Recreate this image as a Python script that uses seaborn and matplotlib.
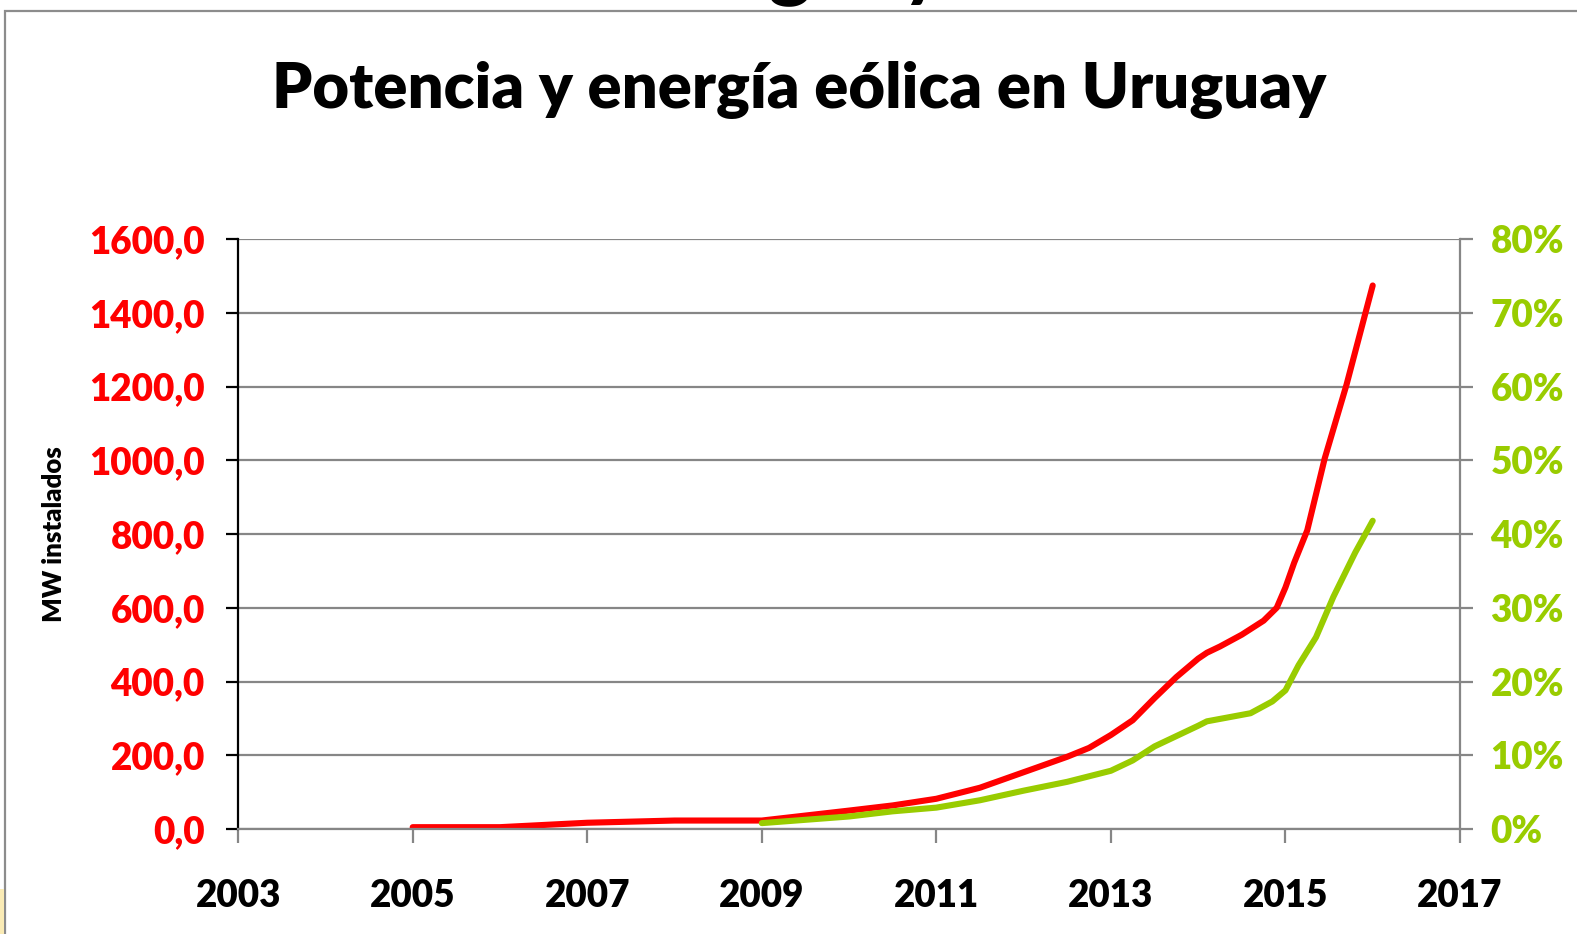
import matplotlib
matplotlib.use("Agg")
import matplotlib.pyplot as plt
import seaborn as sns
import pandas as pd
from matplotlib.patches import Rectangle
from matplotlib.ticker import FuncFormatter, MultipleLocator

# potencia eólica instalada (MW)
anio_mw = [2005, 2006, 2007, 2008, 2009, 2010, 2010.5, 2011, 2011.5, 2012,
           2012.5, 2012.75, 2013.0, 2013.25, 2013.5, 2013.75, 2014.0, 2014.1,
           2014.25, 2014.5, 2014.75, 2014.9, 2015.0, 2015.1, 2015.25, 2015.45,
           2015.7, 2016.0]
mw = [5, 5, 17, 23, 23, 50, 64, 82, 112, 154,
      196, 220, 255, 295, 355, 412, 462, 478,
      495, 527, 565, 600, 655, 722, 810, 1005,
      1205, 1474]

# energía eólica (% de la demanda)
anio_pct = [2009, 2010, 2010.5, 2011, 2011.5, 2012, 2012.5, 2013.0, 2013.25,
            2013.5, 2014.0, 2014.1, 2014.6, 2014.85, 2015.0, 2015.15, 2015.35,
            2015.55, 2015.8, 2016.0]
pct = [0.8, 1.7, 2.4, 2.9, 3.9, 5.2, 6.4, 7.9, 9.3,
       11.2, 14.0, 14.6, 15.7, 17.3, 18.8, 22.2, 26.0,
       31.5, 37.5, 41.8]

year_ticks = list(range(2003, 2018, 2))

RED = "#FF0000"
GREEN = "#99CC00"
GRID = "#868686"

sns.set_style("white")
plt.rcParams["font.family"] = ["Lato", "DejaVu Sans"]
plt.rcParams["font.weight"] = "heavy"
plt.rcParams["text.color"] = "black"

fig = plt.figure(figsize=(15.77, 9.34), dpi=100)
ax = fig.add_axes([0.151, 0.1124, 0.7748, 0.6317])
ax2 = ax.twinx()

df_mw = pd.DataFrame({"anio": anio_mw, "mw": mw})
df_pct = pd.DataFrame({"anio": anio_pct, "pct": pct})

sns.lineplot(data=df_mw, x="anio", y="mw", ax=ax, color=RED, linewidth=4.4)
sns.lineplot(data=df_pct, x="anio", y="pct", ax=ax2, color=GREEN, linewidth=4.4)

# ejes
ax.set_xlim(2003, 2017)
ax.set_xticks(year_ticks)
ax.set_ylim(0, 1600)
ax.yaxis.set_major_locator(MultipleLocator(200))
ax.yaxis.set_major_formatter(FuncFormatter(lambda v, p: f"{v:.1f}".replace(".", ",")))
ax2.set_ylim(0, 80)
ax2.yaxis.set_major_locator(MultipleLocator(10))
ax2.yaxis.set_major_formatter(FuncFormatter(lambda v, p: f"{v:.0f}%"))

ax.yaxis.grid(True, color=GRID, linewidth=1.6)
ax.set_axisbelow(True)

for s in ["top", "right"]:
    ax.spines[s].set_visible(False)
for s in ["top", "left", "bottom"]:
    ax2.spines[s].set_visible(False)
ax.spines["left"].set_color("black")
ax.spines["left"].set_linewidth(1.6)
ax.spines["bottom"].set_color(GRID)
ax.spines["bottom"].set_linewidth(1.6)
ax2.spines["right"].set_color(GRID)
ax2.spines["right"].set_linewidth(1.6)

ax.tick_params(axis="y", direction="out", length=9, width=1.6, color="black",
               pad=15, labelsize=26.5, labelcolor=RED, left=True)
ax.tick_params(axis="x", direction="out", length=10, width=1.6, color=GRID,
               pad=26, labelsize=26.5, labelcolor="black", bottom=True)
ax2.tick_params(axis="y", direction="out", length=9, width=1.6, color=GRID,
                pad=13, labelsize=26.5, labelcolor=GREEN, right=True)
for lab in ax.get_xticklabels() + ax.get_yticklabels() + ax2.get_yticklabels():
    lab.set_fontweight("heavy")

ax.set_xlabel("")
ax2.set_ylabel("")
ax.set_ylabel("MW instalados", fontsize=18.5, fontweight="heavy", color="black")
ax.yaxis.set_label_coords(-0.141, 0.5)

fig.text(0.5067, 1 - 90 / 934, "Potencia y energía eólica en Uruguay",
         ha="center", va="center", fontsize=45.5, fontweight="heavy",
         color="black")

# restos de la diapositiva: texto cortado arriba, marco y esquina
fig.text(628 / 1577, 1 + 10 / 934, "Uruguay", ha="left", va="baseline",
         fontsize=60, fontweight="bold", color="black")
fig.add_artist(Rectangle((5 / 1577, -0.5), 2, 1.5 - 11 / 934,
                         transform=fig.transFigure, fill=False,
                         edgecolor="#8c8c8c", linewidth=1.6))
fig.add_artist(Rectangle((0, 0), 4 / 1577, 45 / 934, transform=fig.transFigure,
                         facecolor="#FAEBB5", edgecolor="none"))

fig.savefig("out.png", dpi=100)
